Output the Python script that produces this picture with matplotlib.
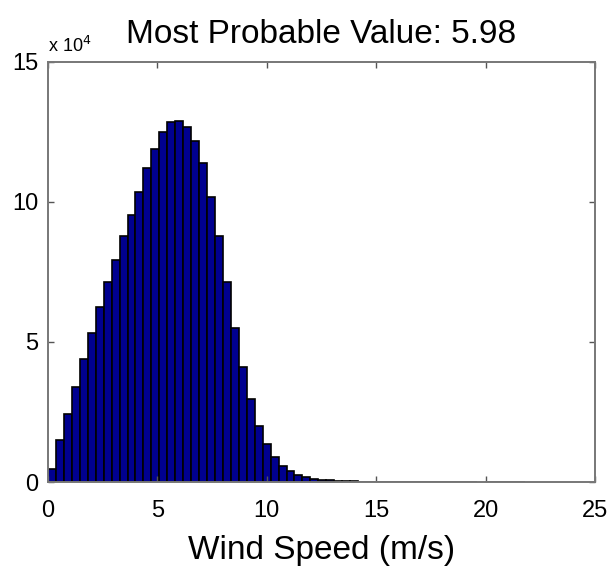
import numpy as np
import matplotlib.pyplot as plt

plt.rcParams['font.family'] = ['Liberation Sans', 'DejaVu Sans']

# wind speed histogram: 60 bins from 0 to 21.8 m/s, counts in units of 1e4
bin_lo = 0.0
bin_hi = 21.8
n_bins = 60
counts = np.array([
    0.46, 1.49, 2.43, 3.39, 4.40, 5.31, 6.24, 7.15, 7.93, 8.79,
    9.54, 10.37, 11.20, 11.89, 12.49, 12.87, 12.90, 12.69, 12.19, 11.40,
    10.19, 8.79, 7.13, 5.49, 4.12, 2.96, 2.01, 1.34, 0.88, 0.57,
    0.39, 0.26, 0.17, 0.11, 0.08, 0.06, 0.045, 0.032, 0.022, 0.015,
    0.010, 0.007, 0.005, 0.0035, 0.0025, 0.0018, 0.0012, 0.0009, 0.0006, 0.0004,
    0.0003, 0.0002, 0.0001, 0.0001, 0.0, 0.0001, 0.0001, 0.0001, 0.0001, 0.0001,
]) * 1e4
most_probable = 5.98

edges = np.linspace(bin_lo, bin_hi, n_bins + 1)
centers = (edges[:-1] + edges[1:]) / 2
width = edges[1] - edges[0]
nz = counts > 0

fig = plt.figure(figsize=(6.14, 5.67), dpi=100)
ax = fig.add_axes([0.0782, 0.1499, 0.8909, 0.7408])

ax.bar(centers[nz], counts[nz], width=width, color=(0, 0, 0.5625),
       edgecolor='black', linewidth=1.2)

ax.set_xlim(0, 25)
ax.set_ylim(0, 15e4)
ax.set_xticks([0, 5, 10, 15, 20, 25])
ax.set_yticks([0, 5e4, 10e4, 15e4])
ax.set_yticklabels(['0', '5', '10', '15'])

ax.tick_params(direction='in', top=True, right=True, length=4, width=1,
               color='#555555', labelsize=17)
ax.tick_params(axis='x', pad=13)
ax.tick_params(axis='y', pad=7)
for s in ax.spines.values():
    s.set_color('#777777')
    s.set_linewidth(1.4)

ax.text(0.0, 1.015, r'x 10$^{4}$', transform=ax.transAxes, fontsize=13,
        ha='left', va='bottom')
ax.set_title('Most Probable Value: %.2f' % most_probable, fontsize=24, pad=14)
ax.set_xlabel('Wind Speed (m/s)', fontsize=24, labelpad=9)

fig.savefig('out.png', dpi=100)
